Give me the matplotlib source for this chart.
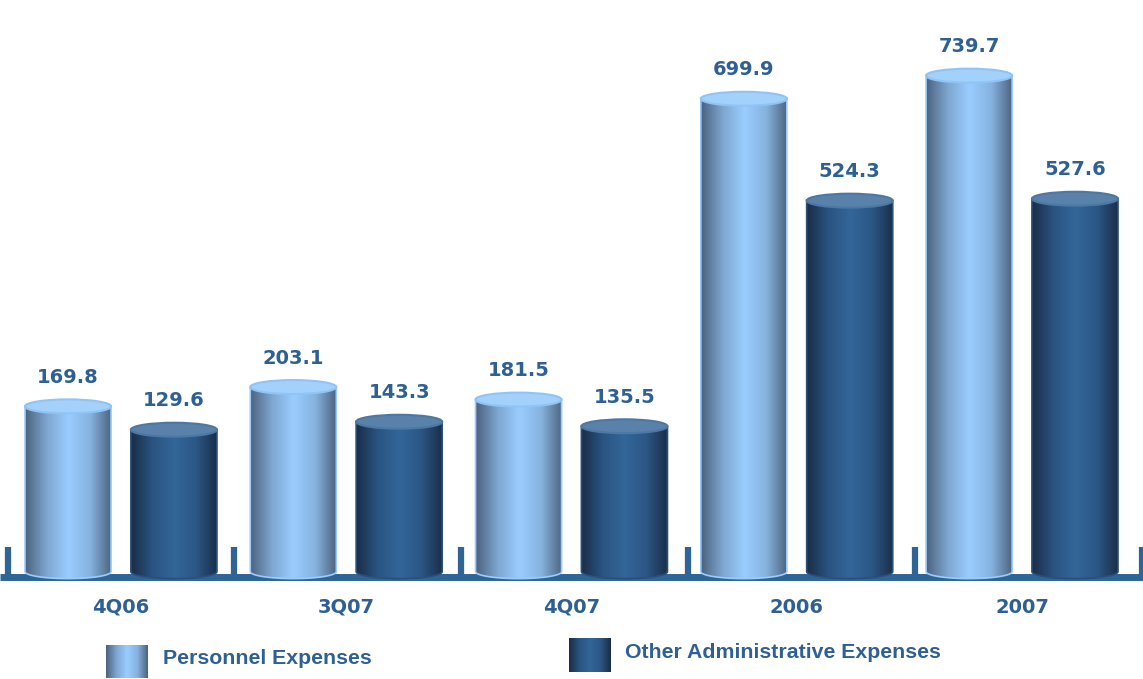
import numpy as np
import matplotlib
matplotlib.use("Agg")
import matplotlib.pyplot as plt
from matplotlib.colors import LinearSegmentedColormap
from matplotlib.patches import Ellipse, Polygon

# R$ million
periods = ["4Q06", "3Q07", "4Q07", "2006", "2007"]
personnel = [169.8, 203.1, 181.5, 699.9, 739.7]
other_admin = [129.6, 143.3, 135.5, 524.3, 527.6]
series_names = ["Personnel Expenses", "Other Administrative Expenses"]

TXT = "#2e6094"
AXIS = "#2f6496"

light_cmap = LinearSegmentedColormap.from_list(
    "light", ["#4c627e", "#7ea6d0", "#9acdff", "#86b3df", "#4c627e"])
dark_cmap = LinearSegmentedColormap.from_list(
    "dark", ["#1a2d47", "#2a5481", "#336699", "#2b5786", "#1a2d47"])

fig = plt.figure(figsize=(11.43, 6.79), dpi=100)
ax = fig.add_axes([0, 0, 1, 1])
ax.axis("off")

floor = -115     # bottom of the cylinders
ry = 12          # half height of the elliptical ends
width = 0.382
offset = 0.235
grad = np.linspace(0, 1, 256).reshape(1, -1)


def cylinder(xc, top, cmap, cap_face, cap_edge, body_edge):
    x0, x1 = xc - width / 2, xc + width / 2
    t = np.linspace(np.pi, 2 * np.pi, 60)
    arc = np.column_stack([xc + width / 2 * np.cos(t), floor + ry * np.sin(t)])
    pts = np.vstack([[x0, top], arc, [x1, top]])
    body = Polygon(pts, closed=True, facecolor="none", edgecolor=body_edge,
                   lw=1.2, zorder=3)
    ax.add_patch(body)
    im = ax.imshow(grad, cmap=cmap, extent=[x0, x1, floor - ry, top],
                   aspect="auto", interpolation="bilinear", zorder=2)
    im.set_clip_path(body)
    ax.add_patch(Ellipse((xc, top), width, 2 * ry, facecolor=cap_face,
                         edgecolor=cap_edge, lw=1.5, zorder=4))


for i in range(len(periods)):
    cylinder(i - offset, personnel[i], light_cmap, "#a4d1fc", "#8fc4f7", "#9acdff")
    cylinder(i + offset, other_admin[i], dark_cmap, "#5981aa", "#4d78a3", "#2a4f78")
    ax.text(i - offset, personnel[i] + 50, f"{personnel[i]:.1f}", ha="center",
            va="center", fontsize=14, fontweight="bold", color=TXT)
    ax.text(i + offset, other_admin[i] + 50, f"{other_admin[i]:.1f}", ha="center",
            va="center", fontsize=14, fontweight="bold", color=TXT)
    ax.text(i, -176, periods[i], ha="center", va="center", fontsize=14,
            fontweight="bold", color=TXT)

# bracket-style category axis
ax.plot([-0.535, 4.535], [-124, -124], color=AXIS, lw=5, solid_capstyle="butt",
        zorder=1)
for b in np.arange(-0.5, 5, 1.0):
    ax.plot([b * 1.007, b * 1.007], [-128, -72], color=AXIS, lw=4.5,
            solid_capstyle="butt", zorder=1)

# legend
W, H = 1143, 679
def swatch(px0, py0, px1, py1, cmap):
    ax.imshow(grad, cmap=cmap, extent=[px0 / W, px1 / W, 1 - py1 / H, 1 - py0 / H],
              transform=ax.transAxes, aspect="auto", interpolation="bilinear",
              zorder=2)

swatch(106, 646, 148, 678, light_cmap)
swatch(569, 639, 611, 672, dark_cmap)
ax.text(163 / W, 1 - 659 / H, series_names[0], transform=ax.transAxes,
        ha="left", va="center", fontsize=15.3, fontweight="bold",
        family="Liberation Sans", color=TXT)
ax.text(625 / W, 1 - 653 / H, series_names[1], transform=ax.transAxes,
        ha="left", va="center", fontsize=15.3, fontweight="bold",
        family="Liberation Sans", color=TXT)

ax.set_xlim(-0.537, 4.537)
ax.set_ylim(-300, 870)
fig.savefig("out.png", dpi=100)
